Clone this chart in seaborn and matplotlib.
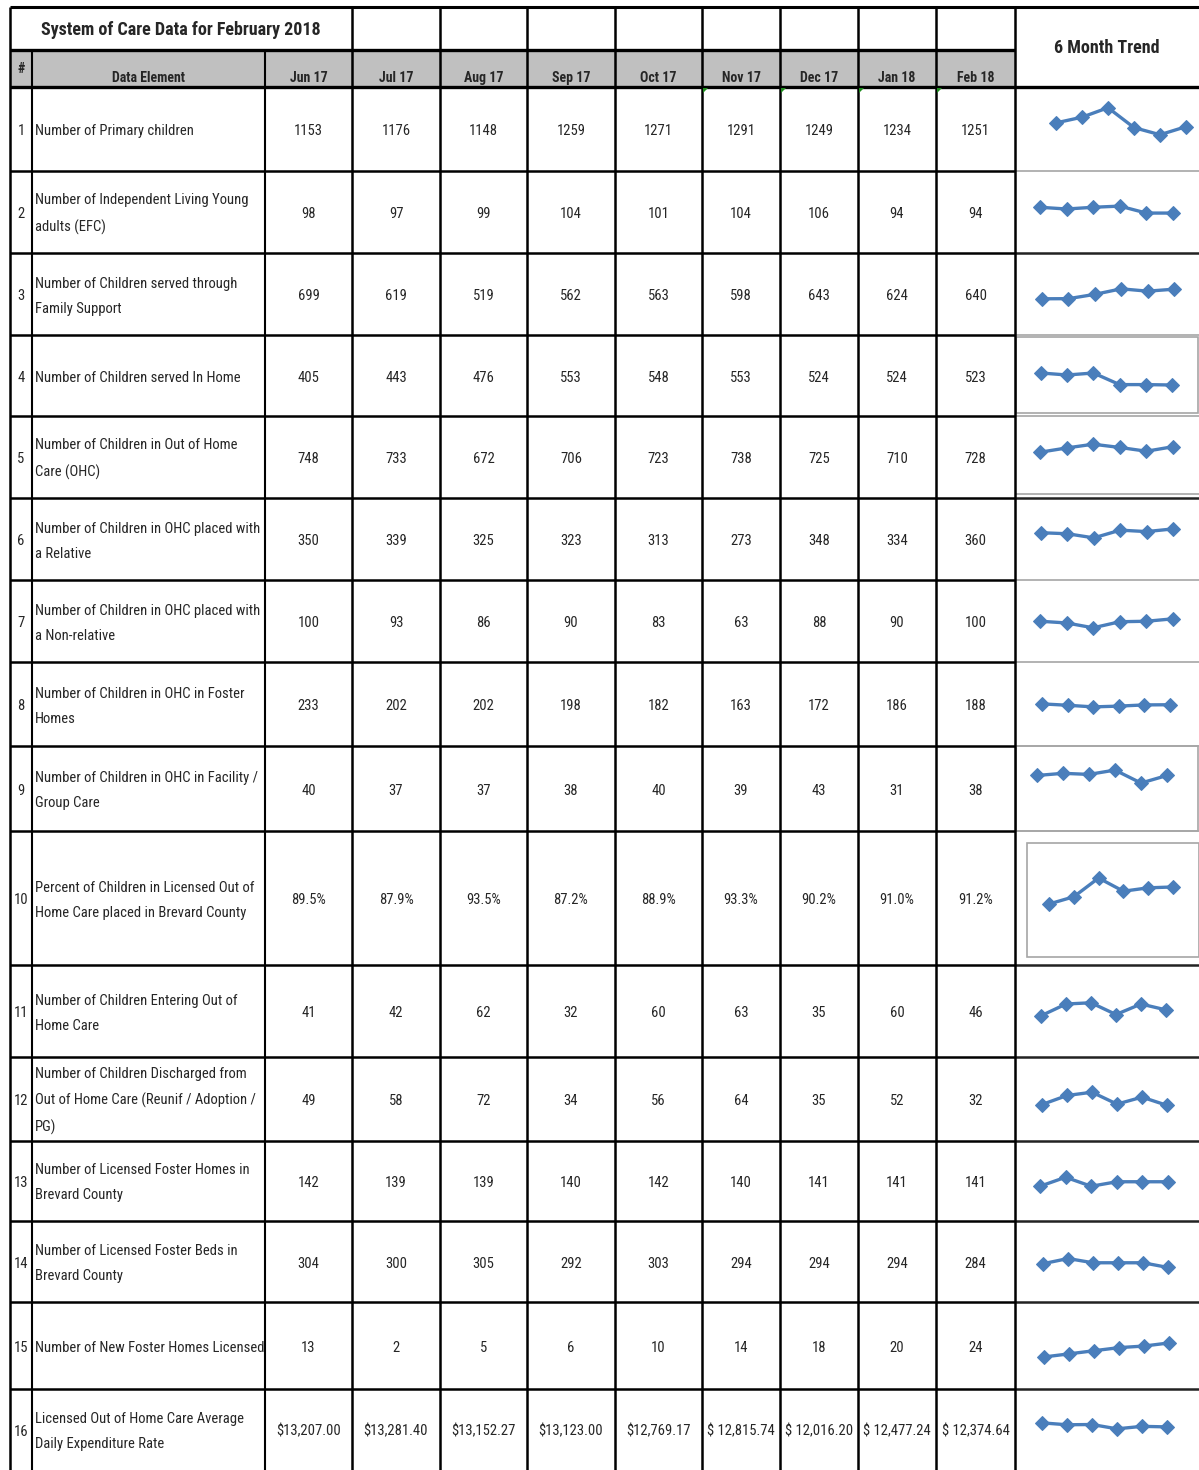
import matplotlib
matplotlib.use("Agg")
import matplotlib.pyplot as plt
import seaborn as sns
import pandas as pd
from matplotlib import font_manager
from matplotlib.patches import Rectangle, Polygon

# -----------------------------------------
#  System of Care Data for February 2018
# -----------------------------------------

months = ["Jun 17", "Jul 17", "Aug 17", "Sep 17", "Oct 17",
          "Nov 17", "Dec 17", "Jan 18", "Feb 18"]

row_labels = [
    "Number of Primary children",
    "Number of Independent Living Young\nadults (EFC)",
    "Number of Children served through\nFamily Support",
    "Number of Children served In Home",
    "Number of Children in Out of Home\nCare (OHC)",
    "Number of Children in OHC placed with\na Relative",
    "Number of Children in OHC placed with\na Non-relative",
    "Number of Children in OHC in Foster\nHomes",
    "Number of Children in OHC in Facility /\nGroup Care",
    "Percent of Children in Licensed Out of\nHome Care placed in Brevard County",
    "Number of Children Entering Out of\nHome Care",
    "Number of Children Discharged from\nOut of Home Care (Reunif / Adoption /\nPG)",
    "Number of Licensed Foster Homes in\nBrevard County",
    "Number of Licensed Foster Beds in\nBrevard County",
    "Number of New Foster Homes Licensed",
    "Licensed Out of Home Care Average\nDaily Expenditure Rate",
]

primary_children = [1153, 1176, 1148, 1259, 1271, 1291, 1249, 1234, 1251]
independent_living = [98, 97, 99, 104, 101, 104, 106, 94, 94]
family_support = [699, 619, 519, 562, 563, 598, 643, 624, 640]
in_home = [405, 443, 476, 553, 548, 553, 524, 524, 523]
out_of_home = [748, 733, 672, 706, 723, 738, 725, 710, 728]
ohc_relative = [350, 339, 325, 323, 313, 273, 348, 334, 360]
ohc_non_relative = [100, 93, 86, 90, 83, 63, 88, 90, 100]
ohc_foster = [233, 202, 202, 198, 182, 163, 172, 186, 188]
ohc_facility = [40, 37, 37, 38, 40, 39, 43, 31, 38]
pct_brevard = [89.5, 87.9, 93.5, 87.2, 88.9, 93.3, 90.2, 91.0, 91.2]
entering_ohc = [41, 42, 62, 32, 60, 63, 35, 60, 46]
discharged_ohc = [49, 58, 72, 34, 56, 64, 35, 52, 32]
foster_homes = [142, 139, 139, 140, 142, 140, 141, 141, 141]
foster_beds = [304, 300, 305, 292, 303, 294, 294, 294, 284]
new_foster_homes = [13, 2, 5, 6, 10, 14, 18, 20, 24]
daily_rate = [13207.00, 13281.40, 13152.27, 13123.00, 12769.17,
              12815.74, 12016.20, 12477.24, 12374.64]

rows = [primary_children, independent_living, family_support, in_home,
        out_of_home, ohc_relative, ohc_non_relative, ohc_foster, ohc_facility,
        pct_brevard, entering_ohc, discharged_ohc, foster_homes, foster_beds,
        new_foster_homes, daily_rate]
row_kind = ["int"] * 9 + ["pct"] + ["int"] * 5 + ["money"]

# ------------------------------
# layout (pixels)
# ------------------------------
W, H = 1199, 1470
col_x = [10, 32, 265, 352, 440, 527, 615, 702, 780, 858, 936, 1015, 1199]
row_y = [7, 50, 87, 171, 253, 335, 416, 498, 580, 662, 746, 831, 965,
         1057, 1141, 1221, 1302, 1389, 1470]

# sparkline placement in each trend cell
spark_x0 = [1056, 1040, 1042, 1041, 1040, 1041, 1040, 1042, 1037, 1049,
            1041, 1042, 1040, 1043, 1044, 1042]
spark_x5 = [1186, 1173, 1174, 1172, 1173, 1173, 1173, 1170, 1167, 1173,
            1166, 1167, 1168, 1168, 1169, 1167]
spark_mid = [122.8, 209.3, 293.5, 379.2, 448.3, 532.5, 622.3, 705.3, 775.3,
             890.8, 1008.5, 1099.8, 1182.5, 1263, 1349.7, 1425.7]
spark_pxu = [0.474, 0.58, 0.123, 0.40, 0.25, 0.103, 0.243, 0.086, 1.08,
             4.26, 0.42, 0.41, 4.5, 0.47, 0.78, 0.0054]

sns.set_theme(style="white")
names = {f.name for f in font_manager.fontManager.ttflist}
font = "DejaVu Sans"
for cand in ["Liberation Sans Narrow", "Roboto Condensed", "Open Sans Condensed", "Liberation Sans"]:
    if cand in names:
        font = cand
        break
plt.rcParams["font.family"] = [font, "DejaVu Sans"]

fig = plt.figure(figsize=(W / 100, H / 100), dpi=100)
fig.patch.set_facecolor("white")
ax = fig.add_axes([0, 0, 1, 1])
ax.set_xlim(0, W)
ax.set_ylim(H, 0)
ax.axis("off")

blk = "black"
gry = "#a6a6a6"
fs = 10.5
dy = 2  # text sits slightly below cell centre

# header fill
ax.add_patch(Rectangle((col_x[0], row_y[1]), col_x[11] - col_x[0], row_y[2] - row_y[1],
                       facecolor="#c0c0c0", edgecolor="none", zorder=0))

# horizontal lines
ax.hlines(row_y[0], col_x[0], W, color=blk, lw=2.2)
ax.hlines(row_y[1], col_x[0], col_x[11], color=blk, lw=2.4)
ax.hlines(row_y[2], col_x[0], W, color=blk, lw=2.4)
for y in row_y[3:-1]:
    ax.hlines(y, col_x[0], col_x[11], color=blk, lw=1.8)
for y in [171, 335, 416, 494, 580, 662, 746, 831]:
    ax.hlines(y, col_x[11], W, color=gry, lw=1.2)
for y in [253, 498] + row_y[12:-1]:
    ax.hlines(y, col_x[11], W, color="#222222", lw=1.8)

# vertical lines
ax.vlines(col_x[0], row_y[0], H, color=blk, lw=1.8)
for x in col_x[1:3]:
    ax.vlines(x, row_y[1], H, color=blk, lw=1.5)
for x in col_x[3:12]:
    ax.vlines(x, row_y[0], H, color=blk, lw=1.8)

# chart boxes in trend column
for (x, y, w, h) in [(1016, 337, 182, 76), (1016, 746, 182, 85), (1027, 843, 172, 114)]:
    ax.add_patch(Rectangle((x, y), w, h, facecolor="none", edgecolor=gry, lw=1.2))

# error indicator triangles
for x in col_x[7:11]:
    ax.add_patch(Polygon([(x + 1, row_y[2] + 1), (x + 6, row_y[2] + 1), (x + 1, row_y[2] + 6)],
                         closed=True, facecolor="#1e8c1e", edgecolor="none", zorder=3))

# titles / headers
ax.text((col_x[0] + col_x[3]) / 2, 30, "System of Care Data for February 2018",
        ha="center", va="center", fontsize=13, fontweight="bold")
ax.text((col_x[11] + W) / 2, 48, "6 Month Trend", ha="center", va="center",
        fontsize=13, fontweight="bold")
ax.text((col_x[0] + col_x[1]) / 2, 67 + dy, "#", ha="center", va="center",
        fontsize=10, fontweight="bold")
ax.text((col_x[1] + col_x[2]) / 2, 76 + dy, "Data Element", ha="center", va="center",
        fontsize=10, fontweight="bold")

# month j sits between col_x[2 + j] and col_x[3 + j]
month_mid = [(a + b) / 2 for a, b in zip(col_x[2:11], col_x[3:12])]
for j, m in enumerate(months):
    ax.text(month_mid[j], 76 + dy, m, ha="center", va="center",
            fontsize=10, fontweight="bold")


def fmt(v, kind, j):
    if kind == "pct":
        return f"{v:.1f}%"
    if kind == "money":
        return f"${v:,.2f}" if j < 5 else f"$ {v:,.2f}"
    return f"{v:d}"


# body rows
for i, vals in enumerate(rows):
    top, bot = row_y[i + 2], row_y[i + 3]
    yc = (top + bot) / 2 + dy
    ax.text((col_x[0] + col_x[1]) / 2, yc, str(i + 1), ha="center", va="center", fontsize=fs)
    ax.text(col_x[1] + 3, yc, row_labels[i], ha="left", va="center", fontsize=fs,
            linespacing=2.0)
    for j, v in enumerate(vals):
        ax.text(month_mid[j], yc, fmt(v, row_kind[i], j),
                ha="center", va="center", fontsize=fs)

    # sparkline of last 6 months
    L, R = col_x[11], W
    sax = fig.add_axes([L / W, 1 - bot / H, (R - L) / W, (bot - top) / H])
    trend = pd.DataFrame({"m": range(6), "v": vals[3:]})
    sns.lineplot(data=trend, x="m", y="v", ax=sax, color="#4A7EBB", lw=2.4,
                 marker="D", markersize=7, markeredgecolor="#4A7EBB")
    dx = (spark_x5[i] - spark_x0[i]) / 5
    sax.set_xlim((L - spark_x0[i]) / dx, (R - spark_x0[i]) / dx)
    vbar = sum(vals[3:]) / 6
    s = spark_pxu[i]
    sax.set_ylim(vbar + (spark_mid[i] - bot) / s, vbar + (spark_mid[i] - top) / s)
    sax.axis("off")
    sax.patch.set_alpha(0)

plt.savefig("out.png", dpi=100)
